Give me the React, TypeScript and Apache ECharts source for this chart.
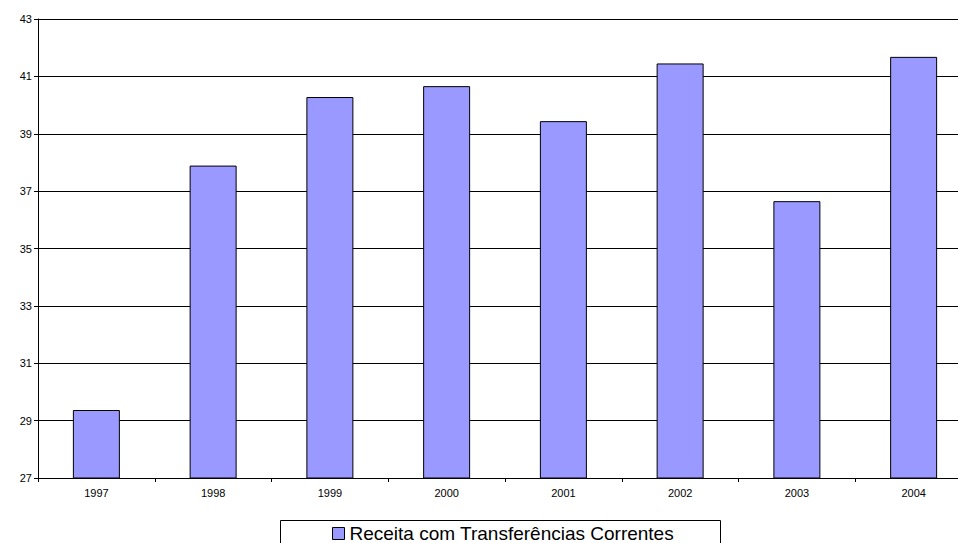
import React, { useEffect, useRef } from "react";
import * as echarts from "echarts";

const years = ["1997", "1998", "1999", "2000", "2001", "2002", "2003", "2004"];
const receita = [29.37, 37.89, 40.28, 40.66, 39.44, 41.45, 36.65, 41.68];
const seriesName = "Receita com Transferências Correntes";

export default function App() {
  const ref = useRef<HTMLDivElement>(null);

  useEffect(() => {
    if (!ref.current) return;
    const chart = echarts.init(ref.current, null, { renderer: "svg" });
    const font = "'Liberation Sans', Arial, sans-serif";
    chart.setOption({
      animation: false,
      backgroundColor: "#ffffff",
      textStyle: { fontFamily: font },
      // the plot runs past the right edge of the visible frame
      grid: { left: 38, top: 19, bottom: 65, width: 934, containLabel: false },
      xAxis: {
        type: "category",
        data: years,
        boundaryGap: true,
        axisLine: { lineStyle: { color: "#000", width: 1 } },
        axisTick: { show: true, length: 4, lineStyle: { color: "#000" } },
        axisLabel: { color: "#000", fontSize: 11, fontFamily: font, margin: 9 },
      },
      yAxis: {
        type: "value",
        min: 27,
        max: 43,
        interval: 2,
        axisLine: { show: true, lineStyle: { color: "#000", width: 1 } },
        axisTick: { show: true, length: 4, lineStyle: { color: "#000" } },
        axisLabel: { color: "#000", fontSize: 11, fontFamily: font, margin: 6 },
        splitLine: { show: true, lineStyle: { color: "#000", width: 1 } },
      },
      legend: {
        show: true,
        left: 332,
        top: 524,
        padding: 0,
        icon: "rect",
        itemWidth: 12,
        itemHeight: 12,
        itemGap: 0,
        textStyle: { fontSize: 19, lineHeight: 19, color: "#000", fontFamily: font },
        data: [{ name: seriesName, itemStyle: { borderColor: "#000", borderWidth: 1 } }],
      },
      graphic: [
        {
          type: "rect",
          shape: { x: 280.5, y: 520.5, width: 440, height: 40 },
          style: { fill: "none", stroke: "#000", lineWidth: 1 },
          silent: true,
        },
      ],
      series: [
        {
          name: seriesName,
          type: "bar",
          data: receita,
          barWidth: 47,
          itemStyle: { color: "#9999FF", borderColor: "#000", borderWidth: 1 },
        },
      ],
    });
    return () => chart.dispose();
  }, []);

  return (
    <div
      style={{
        position: "fixed",
        left: 0,
        top: 0,
        width: 958,
        height: 543,
        overflow: "hidden",
        background: "#fff",
      }}
    >
      <div ref={ref} style={{ width: 980, height: 543 }} />
    </div>
  );
}
